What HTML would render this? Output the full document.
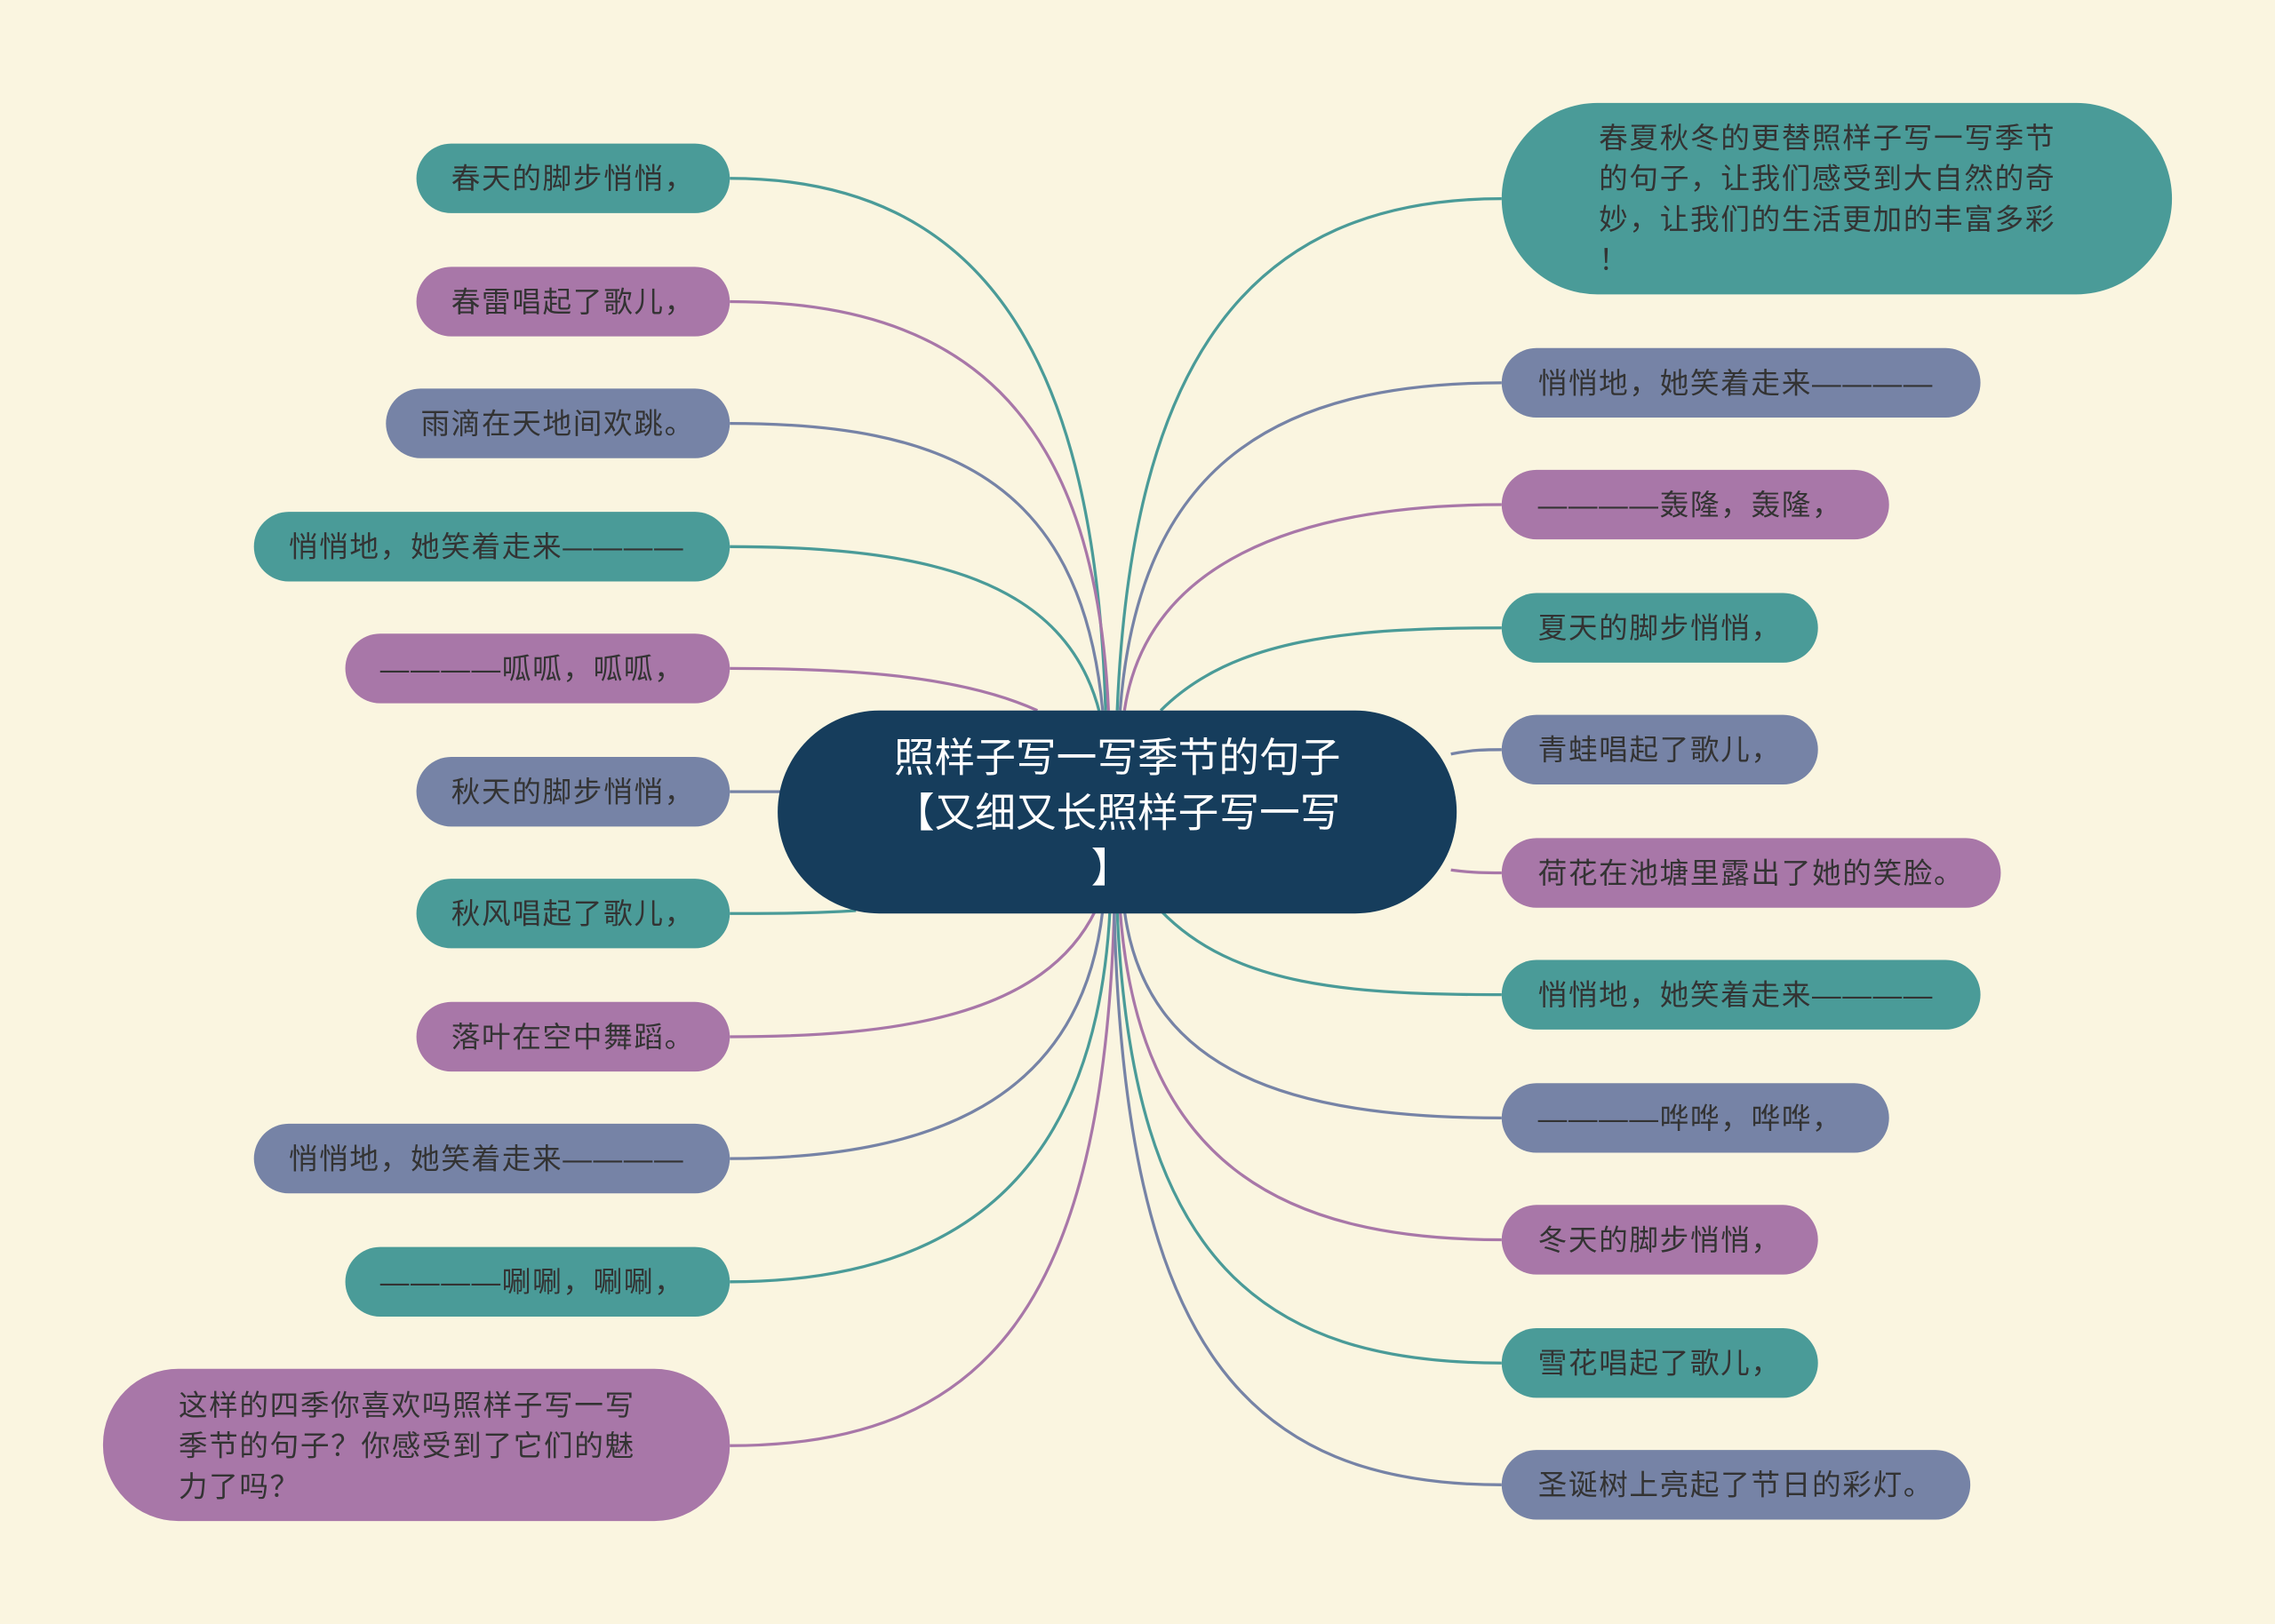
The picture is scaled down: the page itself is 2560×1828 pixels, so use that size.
<!DOCTYPE html>
<html><head><meta charset="utf-8"><style>
html,body{margin:0;padding:0;background:#faf5e0;}
svg{display:block}
text{font-family:"Liberation Sans","Noto Sans CJK SC",sans-serif;font-size:20px;fill:#333;letter-spacing:1px;}
</style></head><body>
<svg width="2560" height="1828" viewBox="0 0 1568 1120" preserveAspectRatio="none" xmlns="http://www.w3.org/2000/svg">
<rect width="1568" height="1120" fill="#faf5e0"/>
<g fill="none" stroke-width="2">
<path d="M762 490 C755 250,680 123,503 123" stroke="#4a9b98"/>
<path d="M764 490 C755 280,660 208,503 208" stroke="#a877a8"/>
<path d="M760 490 C745 330,650 292,503 292" stroke="#7683a6"/>
<path d="M758 492 C735 400,640 377,503 377" stroke="#4a9b98"/>
<path d="M715 490 C660 465,580 461,503 461" stroke="#a877a8"/>
<path d="M540 546 C520 546,510 546,503 546" stroke="#7683a6"/>
<path d="M590 628 C560 630,530 630,503 630" stroke="#4a9b98"/>
<path d="M755 628 C720 700,620 715,503 715" stroke="#a877a8"/>
<path d="M760 628 C745 760,640 799,503 799" stroke="#7683a6"/>
<path d="M765 628 C755 820,650 884,503 884" stroke="#4a9b98"/>
<path d="M768 628 C760 900,680 997,503 997" stroke="#a877a8"/>
<path d="M770 490 C780 250,860 137,1035 137" stroke="#4a9b98"/>
<path d="M772 490 C785 320,880 264,1035 264" stroke="#7683a6"/>
<path d="M775 490 C790 390,890 348,1035 348" stroke="#a877a8"/>
<path d="M800 490 C850 440,930 433,1035 433" stroke="#4a9b98"/>
<path d="M1000 520 C1015 517,1025 517,1035 517" stroke="#7683a6"/>
<path d="M1000 600 C1015 602,1025 602,1035 602" stroke="#a877a8"/>
<path d="M800 628 C850 680,930 686,1035 686" stroke="#4a9b98"/>
<path d="M775 628 C790 740,890 771,1035 771" stroke="#7683a6"/>
<path d="M772 628 C785 800,880 855,1035 855" stroke="#a877a8"/>
<path d="M770 628 C780 870,870 940,1035 940" stroke="#4a9b98"/>
<path d="M768 628 C775 930,860 1024,1035 1024" stroke="#7683a6"/>
</g>
<g>
<rect x="287" y="99" width="216" height="48" rx="24" fill="#4a9b98"/>
<rect x="287" y="184" width="216" height="48" rx="24" fill="#a877a8"/>
<rect x="266" y="268" width="237" height="48" rx="24" fill="#7683a6"/>
<rect x="175" y="353" width="328" height="48" rx="24" fill="#4a9b98"/>
<rect x="238" y="437" width="265" height="48" rx="24" fill="#a877a8"/>
<rect x="287" y="522" width="216" height="48" rx="24" fill="#7683a6"/>
<rect x="287" y="606" width="216" height="48" rx="24" fill="#4a9b98"/>
<rect x="287" y="691" width="216" height="48" rx="24" fill="#a877a8"/>
<rect x="175" y="775" width="328" height="48" rx="24" fill="#7683a6"/>
<rect x="238" y="860" width="265" height="48" rx="24" fill="#4a9b98"/>
<rect x="71" y="944" width="432" height="105" rx="52" fill="#a877a8"/>
<rect x="1035" y="71" width="462" height="132" rx="66" fill="#4a9b98"/>
<rect x="1035" y="240" width="330" height="48" rx="24" fill="#7683a6"/>
<rect x="1035" y="324" width="267" height="48" rx="24" fill="#a877a8"/>
<rect x="1035" y="409" width="218" height="48" rx="24" fill="#4a9b98"/>
<rect x="1035" y="493" width="218" height="48" rx="24" fill="#7683a6"/>
<rect x="1035" y="578" width="344" height="48" rx="24" fill="#a877a8"/>
<rect x="1035" y="662" width="330" height="48" rx="24" fill="#4a9b98"/>
<rect x="1035" y="747" width="267" height="48" rx="24" fill="#7683a6"/>
<rect x="1035" y="831" width="218" height="48" rx="24" fill="#a877a8"/>
<rect x="1035" y="916" width="218" height="48" rx="24" fill="#4a9b98"/>
<rect x="1035" y="1000" width="323" height="48" rx="24" fill="#7683a6"/>
</g>
<g>
<text x="311" y="130">春天的脚步悄悄，</text>
<text x="311" y="215">春雷唱起了歌儿，</text>
<text x="290" y="299">雨滴在天地间欢跳。</text>
<text x="199" y="384">悄悄地，她笑着走来————</text>
<text x="262" y="468">————呱呱，呱呱，</text>
<text x="311" y="553">秋天的脚步悄悄，</text>
<text x="311" y="637">秋风唱起了歌儿，</text>
<text x="311" y="722">落叶在空中舞蹈。</text>
<text x="199" y="806">悄悄地，她笑着走来————</text>
<text x="262" y="891">————唰唰，唰唰，</text>
<text x="123" y="976">这样的四季你喜欢吗照样子写一写</text>
<text x="123" y="1004">季节的句子？你感受到了它们的魅</text>
<text x="123" y="1032">力了吗？</text>
<text x="1102" y="102">春夏秋冬的更替照样子写一写季节</text>
<text x="1102" y="130">的句子，让我们感受到大自然的奇</text>
<text x="1102" y="158">妙，让我们的生活更加的丰富多彩</text>
<text x="1102" y="186">！</text>
<text x="1060" y="271">悄悄地，她笑着走来————</text>
<text x="1060" y="355">————轰隆，轰隆，</text>
<text x="1060" y="440">夏天的脚步悄悄，</text>
<text x="1060" y="524">青蛙唱起了歌儿，</text>
<text x="1060" y="609">荷花在池塘里露出了她的笑脸。</text>
<text x="1060" y="693">悄悄地，她笑着走来————</text>
<text x="1060" y="778">————哗哗，哗哗，</text>
<text x="1060" y="862">冬天的脚步悄悄，</text>
<text x="1060" y="947">雪花唱起了歌儿，</text>
<text x="1060" y="1031">圣诞树上亮起了节日的彩灯。</text>
</g>
<rect x="536" y="490" width="468" height="140" rx="70" fill="#163d5c"/>
<text x="770" y="532" text-anchor="middle" style="fill:#fff;font-size:28px;letter-spacing:0">照样子写一写季节的句子</text>
<text x="770" y="570" text-anchor="middle" style="fill:#fff;font-size:28px;letter-spacing:0">【又细又长照样子写一写</text>
<text x="766" y="608" text-anchor="middle" style="fill:#fff;font-size:28px;letter-spacing:0">】</text>
</svg>
</body></html>
